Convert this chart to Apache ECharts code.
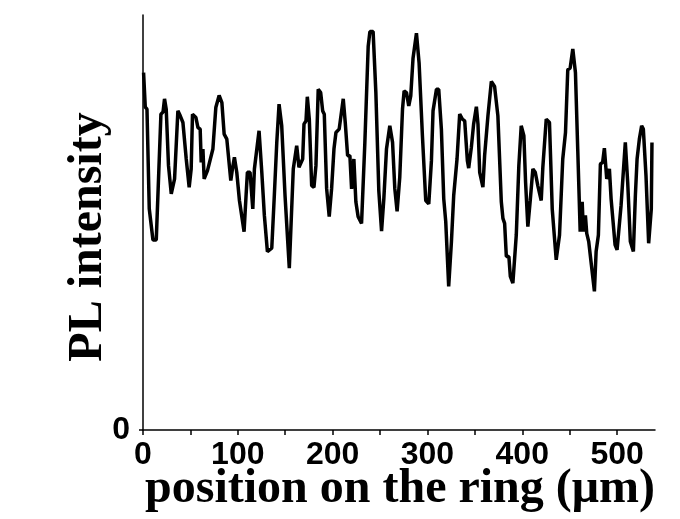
<!DOCTYPE html>
<html>
<head>
<meta charset="utf-8">
<script src="https://cdn.jsdelivr.net/npm/echarts@6/dist/echarts.min.js"></script>
<style>html,body{margin:0;padding:0;background:#fff;}#c{width:680px;height:519px;}</style>
</head>
<body>
<div id="c"></div>
<script>
// position on the ring (µm)
var positions = [0.6,2.4,4.2,6.6,8.7,10.5,14.0,18.9,21.1,22.7,24.5,26.9,29.8,33.3,36.8,39.3,42.1,45.6,48.7,50.8,
52.2,55.8,57.9,60.3,61.4,63.2,64.5,68.0,73.7,76.8,78.5,80.3,83.2,85.6,88.4,92.6,94.3,96.4,98.9,101.7,
103.5,106.6,108.7,110.1,112.9,115.8,117.5,119.3,122.4,125.3,128.0,131.2,135.8,138.5,141.1,143.5,146.3,149.8,154.3,158.5,
162.1,164.5,168.4,169.8,171.9,173.3,175.4,177.9,180.3,182.4,184.8,187.4,189.5,191.2,193.7,196.4,198.9,201.4,203.5,206.9,
208.7,211.2,213.3,215.8,218.2,220.0,222.4,224.5,226.9,230.5,234.0,237.5,239.3,242.7,245.6,248.7,251.6,254.0,256.8,260.3,
263.2,265.6,268.0,270.8,273.7,275.4,277.9,280.3,282.4,284.8,288.4,291.2,294.7,298.2,301.4,304.2,305.9,309.5,311.9,314.7,
317.2,319.3,322.4,325.3,327.7,329.1,331.2,334.0,336.8,339.3,342.1,343.5,346.3,348.7,351.6,353.3,355.1,358.5,360.3,363.8,
367.4,370.8,374.3,377.9,379.6,381.4,383.2,385.9,387.4,390.1,393.7,396.4,398.9,401.7,403.5,405.9,408.4,411.2,413.7,416.4,
420.0,421.7,423.5,425.3,428.7,431.6,435.8,439.3,442.7,445.6,448.0,450.5,453.3,456.1,458.5,461.1,463.2,464.5,466.6,468.0,
470.1,472.9,476.1,477.9,480.3,482.4,484.8,486.6,489.1,491.9,493.7,495.4,497.9,500.0,504.2,508.7,511.2,514.0,517.2,519.3,
521.1,523.5,525.9,527.7,530.5,533.3,534.7,536.1,536.8];
// PL intensity (arbitrary units)
var intensity = [86.1,77.8,77.3,53.3,52.9,45.8,45.8,76.1,76.6,79.8,77.3,63.7,56.9,60.5,76.9,75.7,74.1,65.3,58.5,62.9,
76.1,75.3,72.9,72.5,64.5,67.7,60.5,62.5,67.7,77.7,78.1,80.6,78.9,71.3,70.1,60.1,62.9,65.7,62.1,55.3,
55.0,47.8,56.5,62.1,62.1,53.3,62.9,63.3,72.1,62.1,51.7,43.0,43.8,56.5,69.3,78.5,73.3,56.5,39.0,62.9,
68.5,63.3,65.3,73.7,74.5,80.3,74.9,58.9,58.5,63.7,82.1,81.3,76.9,76.1,58.1,51.4,58.1,67.7,71.7,72.5,
72.9,79.8,74.1,66.1,66.1,58.1,65.3,55.0,51.4,49.8,69.3,92.4,96.0,96.0,81.3,57.7,47.9,55.7,67.7,73.3,
69.3,58.1,52.7,60.9,77.3,81.7,81.3,78.1,80.5,89.6,95.6,88.4,70.9,55.3,54.5,64.9,76.9,82.1,82.1,72.5,
55.7,50.2,34.6,45.4,56.5,56.5,65.3,76.1,74.9,74.5,64.9,63.1,68.1,73.7,77.9,73.7,62.1,58.5,66.1,75.7,
84.0,82.8,75.7,55.0,51.0,49.8,41.8,41.8,37.0,35.4,47.0,63.7,73.3,70.9,59.7,49.0,55.3,62.9,62.1,58.9,
55.3,63.3,63.7,74.9,74.1,53.3,41.0,47.0,65.3,71.7,86.8,87.2,91.8,86.1,67.7,47.8,55.0,47.8,51.7,47.4,
45.4,39.8,33.4,43.0,47.0,64.1,64.5,67.9,60.5,62.9,55.7,55.3,44.6,43.4,54.1,69.3,59.7,45.4,43.0,56.5,
65.3,70.1,73.3,72.5,61.3,45.0,45.0,53.3,69.3];
var xTickValues = [0,100,200,300,400,500];
var xMinorTickValues = [0,50,100,150,200,250,300,350,400,450,500];
var yTickValues = [0];
var xTitle = 'position on the ring (\u03bcm)';
var yTitle = 'PL intensity';

var seriesData = positions.map(function (x, i) { return [x, intensity[i]]; });

var titleFont = 'bold 48px "Liberation Serif", "Times New Roman", serif';

var chart = echarts.init(document.getElementById('c'), null, { renderer: 'canvas' });
chart.setOption({
  animation: false,
  backgroundColor: '#ffffff',
  grid: { left: 143, right: 25, top: 15, bottom: 89, containLabel: false },
  xAxis: {
    type: 'value', min: 0, max: 540,
    axisLine: { show: true, lineStyle: { color: '#000', width: 1.5 } },
    axisTick: { show: true, inside: false, length: 5, customValues: xMinorTickValues, lineStyle: { color: '#000', width: 1.5 } },
    axisLabel: { show: true, customValues: xTickValues, margin: 9, fontFamily: 'Liberation Sans', fontWeight: 'bold', fontSize: 32, color: '#000' },
    splitLine: { show: false }
  },
  yAxis: {
    type: 'value', min: 0, max: 100,
    axisLine: { show: true, lineStyle: { color: '#000', width: 1.5 } },
    axisTick: { show: true, length: 4, customValues: yTickValues, lineStyle: { color: '#000', width: 1.5 } },
    axisLabel: { show: true, customValues: yTickValues, margin: 13, fontFamily: 'Liberation Sans', fontWeight: 'bold', fontSize: 32, color: '#000' },
    splitLine: { show: false }
  },
  graphic: [
    { type: 'text', x: 400, y: 490, silent: true,
      style: { text: xTitle, font: titleFont, fill: '#000', textAlign: 'center', textVerticalAlign: 'middle' } },
    { type: 'text', x: 89, y: 237, rotation: Math.PI / 2, silent: true,
      style: { text: yTitle, font: titleFont, fill: '#000', textAlign: 'center', textVerticalAlign: 'middle' } }
  ],
  series: [{
    type: 'line', data: seriesData, showSymbol: false, symbol: 'none',
    lineStyle: { color: '#000', width: 3.5 }, smooth: false
  }]
});
</script>
</body>
</html>
